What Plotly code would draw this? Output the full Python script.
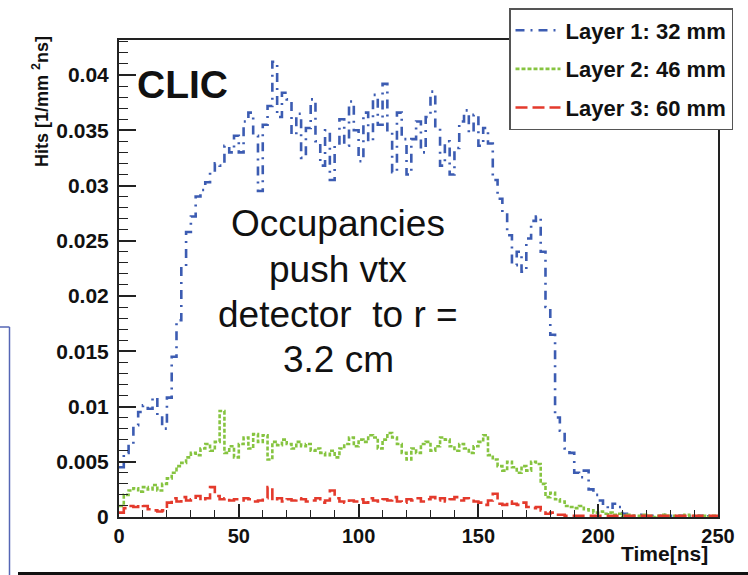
import plotly.graph_objects as go

# ---------------- data (2 ns bins) ----------------
bin_width_ns = 2

layer1_32mm = [
    0.0045, 0.0058, 0.0066, 0.0083, 0.0095, 0.0101, 0.0098, 0.0108, 0.0092, 0.0080,
    0.0108, 0.0145, 0.0178, 0.0225, 0.0258, 0.0272, 0.0290, 0.0296, 0.0303, 0.0312,
    0.0320, 0.0318, 0.0336, 0.0330, 0.0345, 0.0330, 0.0358, 0.0366, 0.0345, 0.0295,
    0.0355, 0.0372, 0.0412, 0.0362, 0.0384, 0.0378, 0.0346, 0.0365, 0.0325, 0.0352,
    0.0378, 0.0340, 0.0318, 0.0350, 0.0305, 0.0338, 0.0360, 0.0336, 0.0376, 0.0350,
    0.0322, 0.0366, 0.0340, 0.0382, 0.0355, 0.0392, 0.0348, 0.0312, 0.0366, 0.0342,
    0.0310, 0.0342, 0.0358, 0.0330, 0.0362, 0.0385, 0.0352, 0.0318, 0.0340, 0.0310,
    0.0334, 0.0358, 0.0368, 0.0348, 0.0364, 0.0336, 0.0352, 0.0338, 0.0305, 0.0288,
    0.0275, 0.0255, 0.0228, 0.0240, 0.0222, 0.0252, 0.0268, 0.0272, 0.0240, 0.0190,
    0.0165, 0.0090, 0.0078, 0.0062, 0.0058, 0.0040, 0.0036, 0.0042, 0.0025, 0.0020,
    0.0015, 0.0010, 0.0007, 0.0012, 0.0009, 0.0003, 0.0002, 0.0001, 0.0002, 0.0001,
    0.0000, 0.0001, 0.0001, 0.0000, 0.0002, 0.0001, 0.0000, 0.0001, 0.0000, 0.0001,
    0.0000, 0.0001, 0.0002, 0.0001, 0.0000,
]

layer2_46mm = [
    0.0010, 0.0020, 0.0024, 0.0026, 0.0023, 0.0027, 0.0025, 0.0029, 0.0024, 0.0030,
    0.0035, 0.0040, 0.0046, 0.0049, 0.0054, 0.0058, 0.0056, 0.0062, 0.0066, 0.0060,
    0.0068, 0.0096, 0.0058, 0.0064, 0.0054, 0.0066, 0.0072, 0.0062, 0.0075, 0.0068,
    0.0074, 0.0052, 0.0068, 0.0065, 0.0070, 0.0066, 0.0062, 0.0068, 0.0064, 0.0066,
    0.0060, 0.0062, 0.0058, 0.0056, 0.0060, 0.0054, 0.0062, 0.0066, 0.0072, 0.0064,
    0.0070, 0.0068, 0.0074, 0.0072, 0.0062, 0.0070, 0.0076, 0.0072, 0.0066, 0.0058,
    0.0052, 0.0062, 0.0058, 0.0066, 0.0068, 0.0060, 0.0064, 0.0072, 0.0070, 0.0064,
    0.0060, 0.0066, 0.0062, 0.0058, 0.0064, 0.0068, 0.0074, 0.0056, 0.0052, 0.0046,
    0.0042, 0.0050, 0.0045, 0.0040, 0.0046, 0.0042, 0.0050, 0.0048, 0.0030, 0.0018,
    0.0022, 0.0016, 0.0014, 0.0010, 0.0009, 0.0008, 0.0010, 0.0007, 0.0006, 0.0004,
    0.0005, 0.0003, 0.0004, 0.0002, 0.0003, 0.0001, 0.0002, 0.0001, 0.0001, 0.0002,
    0.0001, 0.0000, 0.0001, 0.0002, 0.0001, 0.0001, 0.0000, 0.0001, 0.0002, 0.0001,
    0.0000, 0.0001, 0.0001, 0.0000, 0.0001,
]

layer3_60mm = [
    0.0004, 0.0008, 0.0010, 0.0009, 0.0011, 0.0010, 0.0007, 0.0006, 0.0005, 0.0006,
    0.0013, 0.0017, 0.0014, 0.0018, 0.0015, 0.0016, 0.0019, 0.0015, 0.0017, 0.0027,
    0.0019, 0.0016, 0.0017, 0.0015, 0.0016, 0.0015, 0.0017, 0.0016, 0.0014, 0.0015,
    0.0017, 0.0027, 0.0015, 0.0017, 0.0014, 0.0016, 0.0015, 0.0017, 0.0016, 0.0014,
    0.0015, 0.0017, 0.0013, 0.0015, 0.0024, 0.0017, 0.0014, 0.0013, 0.0015, 0.0014,
    0.0016, 0.0013, 0.0017, 0.0015, 0.0014, 0.0016, 0.0015, 0.0018, 0.0014, 0.0013,
    0.0016, 0.0015, 0.0017, 0.0014, 0.0016, 0.0018, 0.0015, 0.0017, 0.0014, 0.0016,
    0.0018, 0.0015, 0.0017, 0.0016, 0.0014, 0.0013, 0.0011, 0.0015, 0.0021, 0.0012,
    0.0011, 0.0014, 0.0012, 0.0011, 0.0013, 0.0009, 0.0008, 0.0009, 0.0006, 0.0003,
    0.0004, 0.0002, 0.0002, 0.0001, 0.0001, 0.0001, 0.0001, 0.0001, 0.0001, 0.0001,
    0.0001, 0.0001, 0.0001, 0.0001, 0.0001, 0.0001, 0.0001, 0.0001, 0.0001, 0.0001,
    0.0001, 0.0001, 0.0001, 0.0001, 0.0001, 0.0001, 0.0001, 0.0001, 0.0001, 0.0001,
    0.0001, 0.0001, 0.0001, 0.0001, 0.0001,
]

series_names = ["Layer 1: 32 mm", "Layer 2: 46 mm", "Layer 3: 60 mm"]
series_values = [layer1_32mm, layer2_46mm, layer3_60mm]
series_colors = ["#3c5cb2", "#86c440", "#e43a2c"]
series_dashes = ["9px,6px,2px,6px", "4px,2px", "12px,5px"]

x_tick_values = [0, 50, 100, 150, 200, 250]
y_tick_values = [0, 0.005, 0.01, 0.015, 0.02, 0.025, 0.03, 0.035, 0.04]
y_tick_labels = ["0", "0.005", "0.01", "0.015", "0.02", "0.025", "0.03", "0.035", "0.04"]

note_lines = ["Occupancies", "push vtx", "detector  to r =", "3.2 cm"]

FONT = "Liberation Sans, Arial, Helvetica, sans-serif"

# plot area in pixels (for placing free text in paper coordinates)
PL, PR, PT, PB = 119, 718, 40, 517


def px(xp):
    return (xp - PL) / (PR - PL)


def py(yp):
    return (PB - yp) / (PB - PT)


fig = go.Figure()
for name, vals, col, dash in zip(series_names, series_values, series_colors, series_dashes):
    edges = [i * bin_width_ns for i in range(len(vals) + 1)]
    fig.add_trace(go.Scatter(
        x=edges, y=list(vals) + [vals[-1]],
        mode="lines", line=dict(shape="hv", color=col, width=2.6, dash=dash),
        name=name, legendgroup=name,
    ))

fig.update_layout(
    width=748, height=575,
    margin=dict(l=PL, r=748 - PR, t=PT, b=575 - PB, autoexpand=False),
    plot_bgcolor="white", paper_bgcolor="white",
    font=dict(family=FONT, color="#111"),
    showlegend=True,
    legend=dict(
        x=px(509), y=py(8), xanchor="left", yanchor="top",
        bgcolor="white", bordercolor="#555", borderwidth=1.5,
        font=dict(family=FONT, size=22, weight="bold", color="#111"),
        itemwidth=45, tracegroupgap=7, traceorder="grouped",
    ),
    xaxis=dict(
        range=[0, 250], showgrid=False, zeroline=False,
        showline=True, linecolor="#222", linewidth=2, mirror=True,
        ticks="inside", ticklen=13, tickwidth=1.5, tickcolor="#222",
        tickvals=x_tick_values,
        tickfont=dict(family=FONT, size=20, weight="bold", color="#111"),
        minor=dict(ticks="inside", ticklen=7, tickwidth=1.2, tickcolor="#222", dtick=10),
    ),
    yaxis=dict(
        range=[0, 0.04317], showgrid=False, zeroline=False,
        showline=True, linecolor="#222", linewidth=2, mirror=True,
        ticks="inside", ticklen=17, tickwidth=1.5, tickcolor="#222",
        tickvals=y_tick_values, ticktext=y_tick_labels,
        tickfont=dict(family=FONT, size=21, weight="bold", color="#111"),
        minor=dict(ticks="inside", ticklen=9, tickwidth=1.2, tickcolor="#222", dtick=0.001),
        ticklabelstandoff=4,
    ),
)

fig.add_annotation(
    text="Hits [1/mm <sup>2</sup>ns]", textangle=-90, xref="paper", yref="paper",
    x=px(40), y=py(102), showarrow=False, xanchor="center", yanchor="middle",
    font=dict(family=FONT, size=18, weight="bold", color="#111"),
)
fig.add_annotation(
    text="Time[ns]", xref="paper", yref="paper", x=px(664), y=py(553),
    showarrow=False, xanchor="center", yanchor="middle",
    font=dict(family=FONT, size=21, weight="bold", color="#111"),
)
fig.add_annotation(
    text="CLIC", xref="paper", yref="paper", x=px(182), y=py(84),
    showarrow=False, xanchor="center", yanchor="middle",
    font=dict(family=FONT, size=39, weight="bold", color="#111"),
)
for line_text, yc in zip(note_lines, [224, 269, 314, 359]):
    fig.add_annotation(
        text=line_text, xref="paper", yref="paper", x=px(338), y=py(yc),
        showarrow=False, xanchor="center", yanchor="middle",
        font=dict(family=FONT, size=37, color="#111"),
    )

# slide decorations outside the plot (edge of a neighbouring box and a rule)
fig.add_shape(type="line", xref="paper", yref="paper",
              x0=px(9.5), x1=px(9.5), y0=py(327), y1=py(580),
              line=dict(color="#5566b5", width=1.5))
fig.add_shape(type="line", xref="paper", yref="paper",
              x0=px(-5), x1=px(9.5), y0=py(327), y1=py(327),
              line=dict(color="#5566b5", width=1.5))
fig.add_shape(type="line", xref="paper", yref="paper",
              x0=px(18), x1=px(760), y0=py(573.5), y1=py(573.5),
              line=dict(color="#111", width=3))

fig.write_html("out.html")
